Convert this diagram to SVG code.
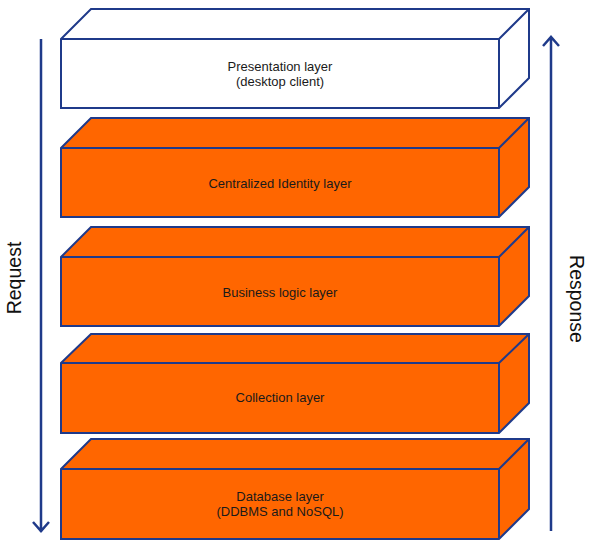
<svg xmlns="http://www.w3.org/2000/svg" width="601" height="558" viewBox="0 0 601 558">
<style>
.f{stroke:#1f3a8a;stroke-width:2;stroke-linejoin:miter}
.l{stroke:#1f3a8a;stroke-width:2;fill:none}
.o{fill:#ff6600}
.w{fill:#ffffff}
.t{font-family:"Liberation Sans",Arial,sans-serif;font-size:13px;fill:#1a1a1a;text-anchor:middle}
.s{font-family:"Liberation Sans",Arial,sans-serif;font-size:19.5px;fill:#111;text-anchor:middle}
.a{stroke:#1f3a8a;stroke-width:2.5;fill:none}
</style>
<g id="presentation">
<path class="f w" d="M61,39 L91,9 L529,9 L529,78 L499,108 L61,108 Z"/>
<path class="l" d="M61,39 L499,39 L529,9 M499,39 L499,108"/>
<text class="t" x="280" y="71">Presentation layer</text>
<text class="t" x="280" y="86">(desktop client)</text>
</g>
<g id="identity">
<path class="f o" d="M61,148 L91,118 L529,118 L529,187 L499,217 L61,217 Z"/>
<path class="l" d="M61,148 L499,148 L529,118 M499,148 L499,217"/>
<text class="t" x="280" y="188">Centralized Identity layer</text>
</g>
<g id="business">
<path class="f o" d="M61,257 L91,227 L529,227 L529,296 L499,326 L61,326 Z"/>
<path class="l" d="M61,257 L499,257 L529,227 M499,257 L499,326"/>
<text class="t" x="280" y="297">Business logic layer</text>
</g>
<g id="collection">
<path class="f o" d="M61,363 L91,334 L529,334 L529,403 L499,433 L61,433 Z"/>
<path class="l" d="M61,363 L499,363 L529,334 M499,363 L499,433"/>
<text class="t" x="280" y="402">Collection layer</text>
</g>
<g id="database">
<path class="f o" d="M61,469 L91,439 L529,439 L529,509 L499,539 L61,539 Z"/>
<path class="l" d="M61,469 L499,469 L529,439 M499,469 L499,539"/>
<text class="t" x="280" y="501">Database layer</text>
<text class="t" x="280" y="516">(DDBMS and NoSQL)</text>
</g>
<g id="connectors">
<path class="a" d="M41,39 L41,532 M33,522 L41,531 L49,522"/>
<path class="a" d="M551,531 L551,37 M543,46 L551,37 L559,46"/>
</g>
<text class="s" transform="translate(21,278) rotate(-90)">Request</text>
<text class="s" transform="translate(570,299) rotate(90)">Response</text>
</svg>
